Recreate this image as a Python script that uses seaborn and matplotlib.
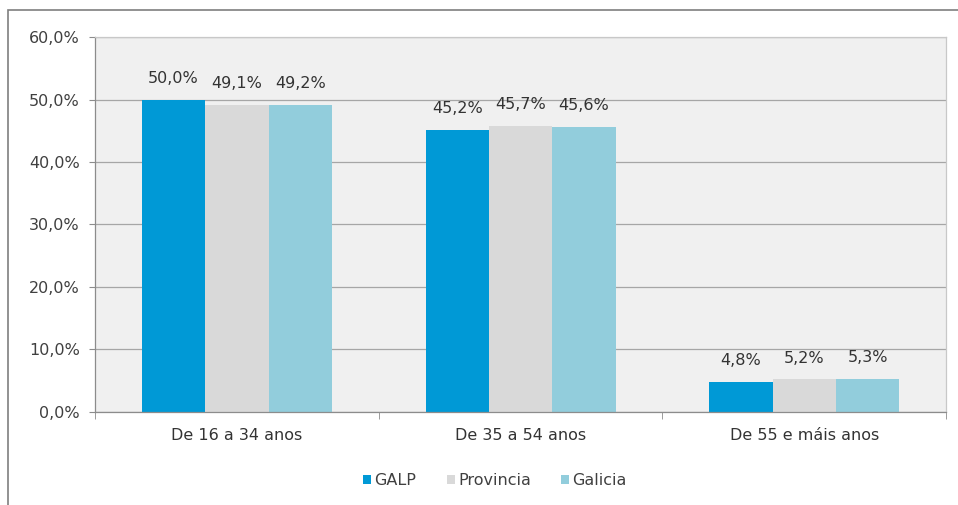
import pandas as pd
import seaborn as sns
import matplotlib.pyplot as plt
from matplotlib.patches import Rectangle
from matplotlib.ticker import FuncFormatter, FixedLocator

# data
categorias = ["De 16 a 34 anos", "De 35 a 54 anos", "De 55 e máis anos"]
galp = [50.0, 45.2, 4.8]
provincia = [49.1, 45.7, 5.2]
galicia = [49.2, 45.6, 5.3]
series = ["GALP", "Provincia", "Galicia"]
cores = ["#0099d6", "#d9d9d9", "#92cddc"]

df = pd.DataFrame({
    "cat": categorias * 3,
    "serie": [s for s in series for _ in categorias],
    "val": galp + provincia + galicia,
})

sns.set_style("white")
plt.rcParams["font.family"] = ["DejaVu Sans"]

fig = plt.figure(figsize=(9.58, 5.05), dpi=100)
ax = fig.add_axes([0.0992, 0.1842, 0.8883, 0.7425])

sns.barplot(data=df, x="cat", y="val", hue="serie", palette=cores,
            width=0.67, saturation=1, ax=ax, legend=True, linewidth=0)

ax.set_facecolor("#f0f0f0")
ax.set_ylim(0, 60)
ax.set_xlim(-0.5, 2.5)
ax.set_yticks(range(0, 61, 10))
ax.yaxis.set_major_formatter(FuncFormatter(lambda v, p: f"{v:.1f}%".replace(".", ",")))
ax.grid(axis="y", color="#a6a6a6", linewidth=0.9)
ax.set_axisbelow(True)
ax.set_xlabel("")
ax.set_ylabel("")

for sp in ["top", "right"]:
    ax.spines[sp].set_color("#c8c8c8")
    ax.spines[sp].set_linewidth(0.9)
for sp in ["left", "bottom"]:
    ax.spines[sp].set_color("#8c8c8c")
    ax.spines[sp].set_linewidth(0.9)

ax.tick_params(axis="y", left=True, length=4, color="#8c8c8c", labelsize=11.5,
               labelcolor="#404040", pad=7)
ax.tick_params(axis="x", bottom=False, labelsize=11.5, labelcolor="#333333", pad=8)
ax.xaxis.set_minor_locator(FixedLocator([-0.5, 0.5, 1.5, 2.5]))
ax.tick_params(axis="x", which="minor", bottom=True, length=5, color="#8c8c8c")

for cont in ax.containers:
    ax.bar_label(cont, labels=[f"{v:.1f}%".replace(".", ",") for v in cont.datavalues],
                 padding=10, fontsize=11.5, color="#333333")

handles, labels = ax.get_legend_handles_labels()
ax.legend(handles, labels, loc="upper center", bbox_to_anchor=(0.47, -0.125),
          ncol=3, frameon=False, fontsize=11.5, handlelength=0.5, handleheight=0.5,
          handletextpad=0.2, columnspacing=1.9, labelcolor="#404040")

fig.patches.append(Rectangle((0.0084, -0.05), 1.1, 1.03, transform=fig.transFigure,
                             fill=False, edgecolor="#7f7f7f", linewidth=1.2))

fig.savefig("out.png", dpi=100)
